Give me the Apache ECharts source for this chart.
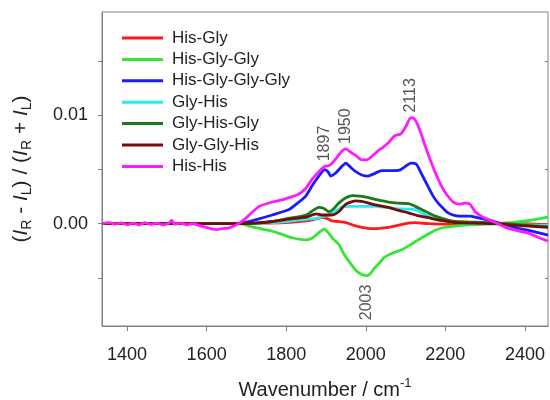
<!DOCTYPE html>
<html>
<head>
<meta charset="utf-8">
<script src="https://cdn.jsdelivr.net/npm/echarts@6/dist/echarts.min.js"></script>
<style>
  html, body { margin: 0; padding: 0; background: #fff; }
  #chart { width: 550px; height: 400px; }
</style>
</head>
<body>
<div id="chart"></div>
<script>
// Spectra: [wavenumber (cm-1), (IR - IL)/(IR + IL) in units of 1e-3]
const hisGly = [[1338,0],[1500,0],[1680,0],[1740,0.05],[1800,0.1],[1850,0.25],[1870,0.4],[1890,0.55],[1905,0.45],[1915,0.25],[1930,0.2],[1950,0.1],[1970,-0.15],[1990,-0.35],[2010,-0.45],[2030,-0.45],[2055,-0.35],[2075,-0.2],[2100,0],[2124,0.1],[2157,0],[2200,-0.05],[2250,-0.05],[2300,0],[2350,0.05],[2400,0],[2458,-0.1]];

const hisGlyGly = [[1338,0],[1680,0],[1690,-0.05],[1720,-0.35],[1765,-0.7],[1790,-1.0],[1815,-1.3],[1850,-1.5],[1865,-1.35],[1880,-0.9],[1895,-0.5],[1905,-0.8],[1918,-1.4],[1932,-1.9],[1945,-2.8],[1960,-3.6],[1975,-4.3],[1990,-4.7],[2003,-4.8],[2012,-4.6],[2022,-4.1],[2035,-3.6],[2047,-3.1],[2065,-2.75],[2090,-2.4],[2110,-2.0],[2132,-1.5],[2155,-1.0],[2175,-0.6],[2190,-0.4],[2207,-0.3],[2230,-0.2],[2257,-0.1],[2300,-0.05],[2340,0],[2365,0.1],[2390,0.2],[2420,0.35],[2450,0.55],[2458,0.6]];

const hisGlyGlyGly = [[1338,0],[1680,0],[1700,0.15],[1727,0.4],[1765,0.8],[1807,1.3],[1832,2.0],[1850,2.6],[1865,3.5],[1882,4.4],[1897,5.0],[1905,4.8],[1912,4.4],[1925,4.7],[1940,5.3],[1950,5.6],[1962,5.2],[1975,4.8],[1990,4.5],[2005,4.4],[2020,4.6],[2040,4.9],[2060,4.9],[2085,4.95],[2100,5.3],[2113,5.6],[2127,5.5],[2140,4.6],[2157,3.4],[2170,2.5],[2182,1.9],[2195,1.4],[2207,1.0],[2225,0.75],[2245,0.7],[2262,0.7],[2280,0.55],[2307,0.35],[2340,0],[2380,-0.4],[2407,-0.6],[2430,-0.8],[2458,-1.05]];

const glyHis = [[1338,0],[1680,0],[1740,0.05],[1800,0.2],[1850,0.4],[1875,0.5],[1907,0.8],[1925,1.2],[1940,1.55],[1960,1.6],[1990,1.6],[2025,1.6],[2050,1.5],[2075,1.4],[2100,1.35],[2124,1.3],[2140,1.0],[2157,0.7],[2180,0.4],[2207,0.2],[2250,0.05],[2300,0],[2400,-0.1],[2458,-0.15]];

const glyHisGly = [[1338,0],[1680,0],[1720,0.05],[1765,0.2],[1800,0.45],[1850,0.8],[1882,1.5],[1895,1.4],[1907,1.1],[1920,1.4],[1932,1.9],[1950,2.4],[1967,2.6],[1985,2.55],[2007,2.4],[2030,2.2],[2057,2.0],[2080,1.9],[2107,1.85],[2125,1.6],[2140,1.3],[2157,1.0],[2175,0.7],[2200,0.4],[2225,0.2],[2260,0.15],[2307,0.1],[2350,0],[2407,-0.15],[2458,-0.3]];

const glyGlyHis = [[1338,0],[1680,0],[1720,0.05],[1765,0.2],[1800,0.4],[1850,0.6],[1875,0.9],[1890,0.8],[1915,0.8],[1932,1.1],[1950,1.8],[1975,2.1],[1990,2.05],[2007,1.9],[2030,1.7],[2057,1.5],[2080,1.25],[2107,1.0],[2130,0.75],[2157,0.55],[2190,0.3],[2225,0.1],[2270,0.05],[2325,0],[2380,-0.15],[2420,-0.25],[2458,-0.35]];

const hisHis = [[1338,0],[1355,0.1],[1370,-0.05],[1385,0.08],[1400,-0.1],[1415,0.05],[1430,-0.12],[1445,0.1],[1460,-0.08],[1475,0.05],[1490,-0.1],[1505,0.05],[1512,0.3],[1520,-0.05],[1535,0.05],[1550,-0.1],[1565,0],[1580,-0.15],[1595,-0.3],[1610,-0.45],[1625,-0.55],[1640,-0.45],[1655,-0.4],[1670,-0.2],[1682,0.05],[1695,0.4],[1710,0.9],[1732,1.6],[1765,2.0],[1790,2.2],[1807,2.4],[1830,2.7],[1850,3.3],[1865,4.1],[1882,4.8],[1897,5.3],[1910,5.4],[1925,6.0],[1940,6.7],[1950,6.9],[1962,6.6],[1975,6.3],[1990,5.9],[2003,5.9],[2015,6.2],[2030,6.7],[2045,7.1],[2060,7.6],[2072,8.1],[2088,8.3],[2100,8.9],[2113,9.8],[2122,9.7],[2130,9.2],[2140,8.2],[2150,7.1],[2162,5.9],[2175,4.7],[2190,3.5],[2205,2.6],[2220,2.0],[2235,1.8],[2250,1.9],[2262,1.8],[2275,1.1],[2290,0.7],[2307,0.4],[2332,0],[2355,-0.4],[2375,-0.6],[2395,-0.75],[2410,-0.9],[2430,-1.2],[2450,-1.5],[2458,-1.6]];

const seriesNames = ['His-Gly', 'His-Gly-Gly', 'His-Gly-Gly-Gly', 'Gly-His', 'Gly-His-Gly', 'Gly-Gly-His', 'His-His'];
const seriesData = [hisGly, hisGlyGly, hisGlyGlyGly, glyHis, glyHisGly, glyGlyHis, hisHis];
const seriesColors = ['#ff1a1a', '#33e633', '#1a1aff', '#22eeee', '#1a7a1a', '#7a0a0a', '#ff1aff'];

// Axis ticks and labels
const xTicks = [1400, 1600, 1800, 2000, 2200, 2400];
const yTicks = [-0.005, 0, 0.005, 0.01, 0.015];
const yLabelValues = [0, 0.01];
const yRightTicks = [-0.005, 0.005, 0.015];

// Annotated band positions (cm-1) and the spectrum they sit on
const bandMarks = [
  { series: 'His-His', wn: 1897 },
  { series: 'His-His', wn: 1950 },
  { series: 'His-His', wn: 2113 },
  { series: 'His-Gly-Gly', wn: 2003 }
];

const SCALE = 1e-3;
const toRatio = pts => pts.map(([x, y]) => [x, y * SCALE]);

function valueAt(pts, wn) {
  for (let i = 1; i < pts.length; i++) {
    if (pts[i][0] >= wn) {
      const [x0, y0] = pts[i - 1], [x1, y1] = pts[i];
      return (y0 + (y1 - y0) * (wn - x0) / (x1 - x0)) * SCALE;
    }
  }
  return pts[pts.length - 1][1] * SCALE;
}

const FONT = '"Liberation Sans", Arial, sans-serif';
const AXIS_GREY = '#808080';
const GAP = 5;

const series = seriesNames.map((name, i) => {
  const marks = bandMarks.filter(m => m.series === name).map(m => {
    const v = valueAt(seriesData[i], m.wn);
    const up = v >= 0;
    return {
      coord: [m.wn, v],
      value: m.wn,
      label: { align: up ? 'left' : 'right', offset: [up ? GAP : -GAP - 4, 0] }
    };
  });
  const s = {
    name,
    type: 'line',
    data: toRatio(seriesData[i]),
    showSymbol: false,
    smooth: 0.2,
    lineStyle: { width: 2.8, color: seriesColors[i] },
    itemStyle: { color: seriesColors[i] },
    emphasis: { disabled: true },
    z: 2 + i
  };
  if (marks.length) {
    s.markPoint = {
      symbol: 'rect',
      symbolSize: [1, 1],
      itemStyle: { color: 'rgba(0,0,0,0)' },
      label: {
        show: true,
        position: 'inside',
        rotate: 90,
        verticalAlign: 'middle',
        fontSize: 16,
        fontFamily: FONT,
        color: '#555',
        formatter: p => String(p.value)
      },
      data: marks
    };
  }
  return s;
});

const chart = echarts.init(document.getElementById('chart'), null, { renderer: 'canvas' });
chart.setOption({
  animation: false,
  backgroundColor: '#fff',
  textStyle: { fontFamily: FONT },
  grid: {
    left: 102, right: 2, top: 12, bottom: 74,
    containLabel: false,
    outerBoundsMode: 'none',
    show: true, borderColor: AXIS_GREY, borderWidth: 1, backgroundColor: 'transparent'
  },
  legend: {
    data: seriesNames,
    orient: 'vertical',
    left: 117, top: 24,
    icon: 'rect',
    itemWidth: 41, itemHeight: 3,
    itemGap: 3.4,
    textStyle: { fontSize: 17, lineHeight: 18, color: '#222', fontFamily: FONT, padding: [0, 0, 0, 4] },
    selectedMode: false
  },
  xAxis: {
    type: 'value',
    min: 1337, max: 2458,
    axisLine: { show: true, onZero: false, lineStyle: { color: AXIS_GREY, width: 1 } },
    splitLine: { show: false },
    axisTick: { show: true, customValues: xTicks, length: 5, lineStyle: { color: AXIS_GREY } },
    axisLabel: { customValues: xTicks, fontSize: 18, color: '#222', margin: 20, fontFamily: FONT, formatter: v => String(v) },
    name: '{t|Wavenumber / cm}{s|-1}',
    nameLocation: 'middle',
    nameGap: 51,
    nameTextStyle: {
      rich: {
        t: { fontSize: 20, color: '#222', fontFamily: FONT, verticalAlign: 'top', padding: [3, 0, 0, 0] },
        s: { fontSize: 13, color: '#222', fontFamily: FONT, verticalAlign: 'top' }
      }
    }
  },
  yAxis: [{
    type: 'value',
    min: -0.00945, max: 0.01955,
    axisLine: { show: true, onZero: false, lineStyle: { color: AXIS_GREY, width: 1 } },
    splitLine: { show: false },
    axisTick: { show: true, customValues: yTicks, length: 4, lineStyle: { color: AXIS_GREY } },
    axisLabel: { customValues: yLabelValues, fontSize: 18, color: '#222', margin: 14, fontFamily: FONT, formatter: v => v.toFixed(2) },
    name: '{p|(}{i|I}{s|R}{p| - }{i|I}{s|L}{p|) / (}{i|I}{s|R}{p| + }{i|I}{s|L}{p|)}',
    nameLocation: 'middle',
    nameRotate: 90,
    nameGap: 68,
    nameTextStyle: {
      rich: {
        p: { fontSize: 21, color: '#222', fontFamily: FONT, verticalAlign: 'top' },
        i: { fontSize: 21, color: '#222', fontFamily: FONT, fontStyle: 'italic', verticalAlign: 'top' },
        s: { fontSize: 14, color: '#222', fontFamily: FONT, verticalAlign: 'top', padding: [9, 0, 0, 0] }
      }
    }
  }, {
    type: 'value',
    position: 'right',
    min: -0.00945, max: 0.01955,
    axisLine: { show: false, onZero: false },
    splitLine: { show: false },
    axisTick: { show: true, inside: true, customValues: yRightTicks, length: 3, lineStyle: { color: AXIS_GREY } },
    axisLabel: { show: false }
  }],
  series
});
</script>
</body>
</html>
